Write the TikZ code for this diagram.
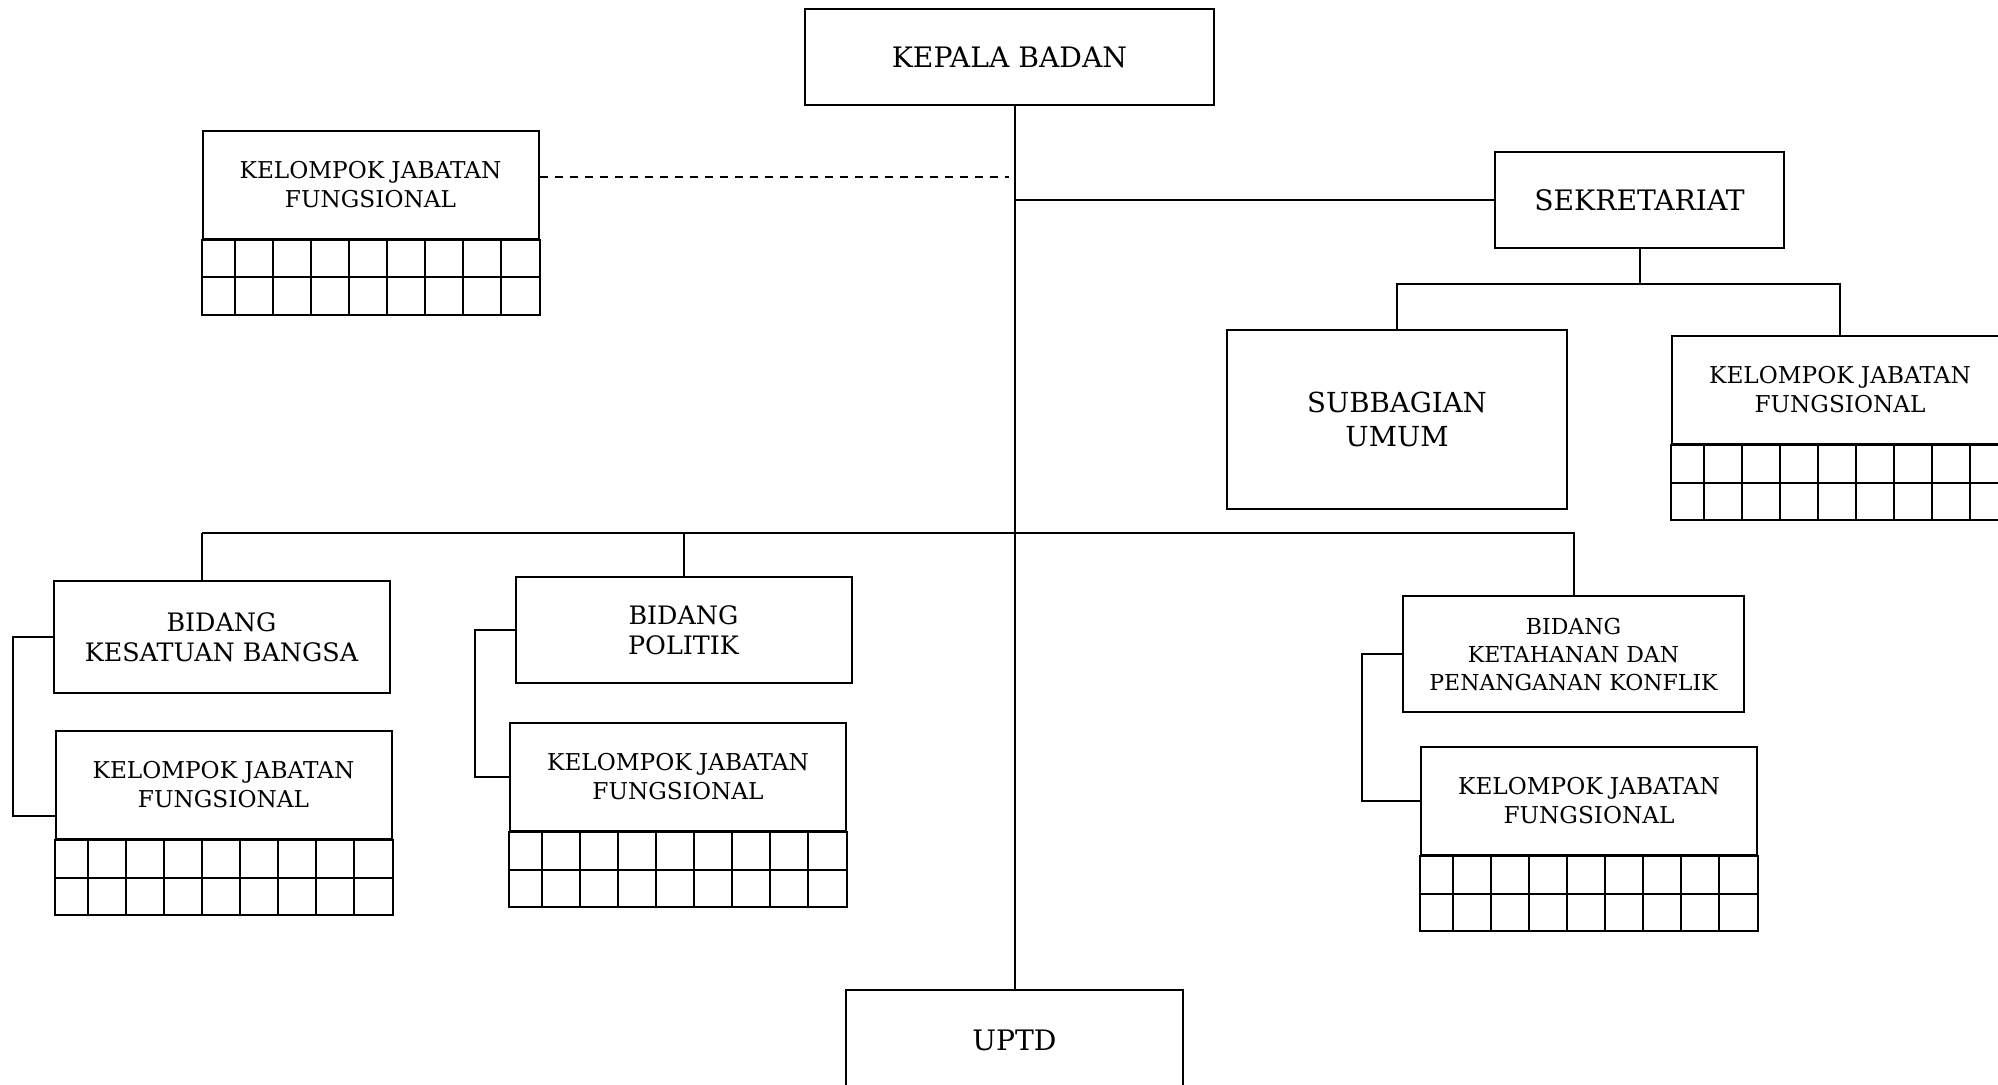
\documentclass[tikz,border=0pt]{standalone}
\usepackage{fontspec}
\setmainfont{DejaVu Serif}
\usetikzlibrary{positioning, calc}

\newcommand{\bigfont}{\fontsize{14.1}{16}\selectfont}
\newcommand{\midfont}{\fontsize{12.7}{15}\selectfont}
\newcommand{\kjffont}{\fontsize{11.6}{14.5}\selectfont}

% two rows of nine cells under a KJF header
\newcommand{\kjfgrid}[1]{%
  \draw[conn] (#1.south west) rectangle ($(#1.south east)+(0,-75)$);
  \draw[conn] ($(#1.south west)+(0,-37.5)$) -- ($(#1.south east)+(0,-37.5)$);
  \foreach \i in {0,...,7}
    \draw[conn] ($(#1.south west)+(33+38*\i,0)$) -- ++(0,-75);
}

\begin{document}
\begin{tikzpicture}[x=0.5pt, y=0.5pt,
    box/.style={rectangle, draw, line width=1pt, inner sep=2pt, align=center},
    head/.style={box, font=\bigfont, minimum height=48pt},
    bid/.style={box, font=\midfont, minimum width=168pt},
    kjf/.style={box, font=\kjffont, minimum width=168pt, minimum height=54pt},
    conn/.style={line width=1pt},
    dline/.style={line width=1pt, dash pattern=on 4pt off 3.5pt}
]
\useasboundingbox (0,0) rectangle (1998,-1084);
\clip (0,0) rectangle (1998,-1084);

\node[head, minimum width=204.5pt] (kepala) at (1009.5,-57) {KEPALA BADAN};
\node[head, minimum width=144.5pt] (sek) at (1639.5,-200) {SEKRETARIAT};
\node[box, font=\fontsize{13.8}{17}\selectfont, minimum width=170pt, minimum height=89.5pt] (subumum) at (1397,-419.5) {SUBBAGIAN\\UMUM};
\node[kjf] (kjfS) at (1840,-390) {KELOMPOK JABATAN\\FUNGSIONAL};
\node[kjf] (kjfA) at (370.5,-184.5) {KELOMPOK JABATAN\\FUNGSIONAL};

\node[bid, minimum height=56pt] (bkb) at (221.5,-637) {BIDANG\\KESATUAN BANGSA};
\node[bid, minimum height=53pt] (pol) at (683.5,-630) {BIDANG\\POLITIK};
\node[bid, minimum height=58pt, minimum width=170.5pt, font=\fontsize{11}{14}\selectfont] (bkpk) at (1573.5,-654) {BIDANG\\KETAHANAN DAN\\PENANGANAN KONFLIK};
\node[kjf, below=18pt of bkb, xshift=1pt] (kjfB) {KELOMPOK JABATAN\\FUNGSIONAL};
\node[kjf, below=19pt of pol, xshift=-2.75pt] (kjfP) {KELOMPOK JABATAN\\FUNGSIONAL};
\node[kjf, below=16.5pt of bkpk, xshift=7.75pt] (kjfK) {KELOMPOK JABATAN\\FUNGSIONAL};
\node[head, minimum width=168.5pt, minimum height=50pt] (uptd) at (1014.5,-1040) {UPTD};

\kjfgrid{kjfA}
\kjfgrid{kjfS}
\kjfgrid{kjfB}
\kjfgrid{kjfP}
\kjfgrid{kjfK}

% spine
\draw[conn] (kepala.south -| uptd.north) -- (uptd.north);
\draw[dline] ($(kjfA.east)+(0,7.5)$) -- ++(469,0);
\draw[conn] (sek.west) -- (sek.west -| uptd.north);
\draw[conn] (sek.south) -- ++(0,-35) coordinate (sekbus);
\draw[conn] (subumum.north) |- (sekbus) -| (kjfS.north);

% bidang bus
\coordinate (busL) at (202,-533);
\draw[conn] (busL) -- (busL -| bkpk.north) -- (bkpk.north);
\draw[conn] (busL) -- (busL |- bkb.north);
\draw[conn] (pol.north) -- (pol.north |- busL);

% side brackets
\draw[conn] (bkb.west) -- ++(-40,0) |- ($(kjfB.west)+(0,-31)$);
\draw[conn] (pol.west) -- ++(-40,0) |- (kjfP.west);
\draw[conn] (bkpk.west) -- ++(-40,0) |- (kjfK.west);
\end{tikzpicture}
\end{document}
